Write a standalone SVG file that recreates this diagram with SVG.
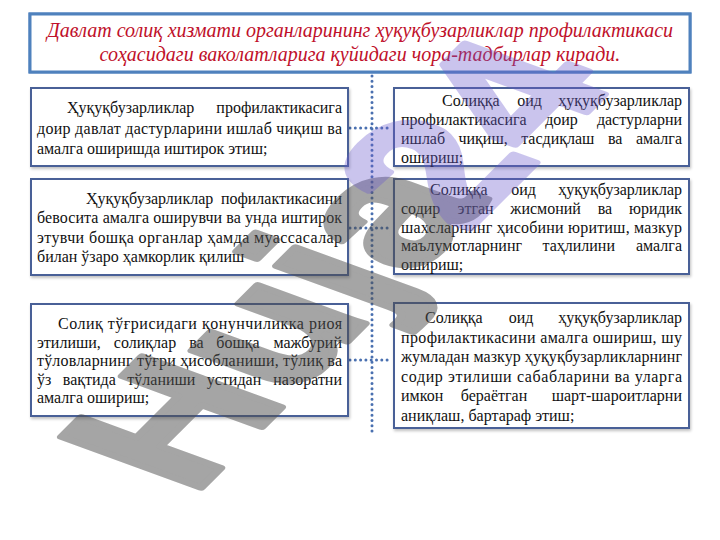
<svg xmlns="http://www.w3.org/2000/svg" width="720" height="540" viewBox="0 0 720 540">
<defs>
<filter id="glow" x="-5%" y="-30%" width="110%" height="160%">
<feGaussianBlur in="SourceAlpha" stdDeviation="3"/>
<feOffset dx="0" dy="2"/>
<feComponentTransfer><feFuncA type="linear" slope="0.35"/></feComponentTransfer>
<feFlood flood-color="#4f81bd"/>
<feComposite operator="in" in2="SourceGraphic"/>
<feMerge><feMergeNode/><feMergeNode in="SourceGraphic"/></feMerge>
</filter>
<filter id="sh" x="-5%" y="-10%" width="110%" height="125%">
<feGaussianBlur in="SourceAlpha" stdDeviation="1.5"/>
<feOffset dx="1" dy="2"/>
<feComponentTransfer><feFuncA type="linear" slope="0.25"/></feComponentTransfer>
<feMerge><feMergeNode/><feMergeNode in="SourceGraphic"/></feMerge>
</filter>
<style>
.box{fill:#fff;stroke:#4a6197;stroke-width:2}
.tbox{fill:#fff;stroke:#4f81bd;stroke-width:3}
.t{font-family:"Liberation Serif","Times New Roman",serif;font-size:16px;fill:#111}
.m{text-anchor:middle}
.e{text-anchor:end}
.title{font-family:"Liberation Serif","Times New Roman",serif;font-style:italic;font-size:20px;fill:#c0102a;text-anchor:middle}
.dot{fill:none;stroke:#4a70b0;stroke-width:3;stroke-linecap:round;stroke-dasharray:0 5.3}
.wm{font-family:"Liberation Sans",Arial,sans-serif;font-weight:bold;font-size:190px;stroke-width:7;stroke-linejoin:round}
</style>
</defs>
<rect width="720" height="540" fill="#fff"/>

<g id="connectors">
<line class="dot" x1="372" y1="76" x2="372" y2="432"/>
<line class="dot" x1="350" y1="128" x2="392" y2="128"/>
<line class="dot" x1="350" y1="228" x2="392" y2="228"/>
<line class="dot" x1="350" y1="360" x2="392" y2="360"/>
</g>

<g id="title">
<rect class="tbox" x="30" y="14" width="660" height="58" filter="url(#glow)"/>
<text class="title" x="360" y="37">Давлат солиқ хизмати органларининг ҳуқуқбузарликлар профилактикаси</text>
<text class="title" x="360" y="61">соҳасидаги ваколатларига қуйидаги чора-тадбирлар киради.</text>
</g>

<g id="left1">
<rect class="box" x="31" y="88" width="317" height="78" filter="url(#sh)"/>
<text class="t" x="67" y="113">Ҳуқуқбузарликлар</text>
<text class="t e" x="342" y="113">профилактикасига</text>
<text class="t" x="37" y="133.5" textLength="305" lengthAdjust="spacing">доир давлат дастурларини ишлаб чиқиш ва</text>
<text class="t" x="37" y="154">амалга оширишда иштирок этиш;</text>
</g>

<g id="left2">
<rect class="box" x="31" y="179" width="317" height="96" filter="url(#sh)"/>
<text class="t" x="86" y="204">Ҳуқуқбузарликлар</text>
<text class="t e" x="342" y="204">пофилактикасини</text>
<text class="t" x="37" y="223.3" textLength="305" lengthAdjust="spacing">бевосита амалга оширувчи ва унда иштирок</text>
<text class="t" x="37" y="242.6" textLength="305" lengthAdjust="spacing">этувчи бошқа органлар ҳамда муассасалар</text>
<text class="t" x="37" y="262">билан ўзаро ҳамкорлик қилиш</text>
</g>

<g id="left3">
<rect class="box" x="31" y="304" width="317" height="112" filter="url(#sh)"/>
<text class="t" x="58" y="329" textLength="284" lengthAdjust="spacing">Солиқ тўғрисидаги қонунчиликка риоя</text>
<text class="t" x="37" y="347.5">этилиши,</text>
<text class="t m" x="145" y="347.5">солиқлар</text>
<text class="t m" x="196.5" y="347.5">ва</text>
<text class="t m" x="238" y="347.5">бошқа</text>
<text class="t e" x="342" y="347.5">мажбурий</text>
<text class="t" x="37" y="366" textLength="305" lengthAdjust="spacing">тўловларнинг тўғри ҳисобланиши, тўлиқ ва</text>
<text class="t" x="37" y="384.5">ўз</text>
<text class="t m" x="89.3" y="384.5">вақтида</text>
<text class="t m" x="161.4" y="384.5">тўланиши</text>
<text class="t m" x="234" y="384.5">устидан</text>
<text class="t e" x="342" y="384.5">назоратни</text>
<text class="t" x="37" y="403">амалга ошириш;</text>
</g>

<g id="right1">
<rect class="box" x="394" y="88" width="295" height="78" filter="url(#sh)"/>
<text class="t" x="442" y="106">Солиққа</text>
<text class="t m" x="529.5" y="106">оид</text>
<text class="t e" x="682" y="106">ҳуқуқбузарликлар</text>
<text class="t" x="401" y="125">профилактикасига</text>
<text class="t m" x="561.5" y="125">доир</text>
<text class="t e" x="682" y="125">дастурларни</text>
<text class="t" x="401" y="144">ишлаб</text>
<text class="t m" x="483.1" y="144">чиқиш,</text>
<text class="t m" x="557.8" y="144">тасдиқлаш</text>
<text class="t m" x="615.2" y="144">ва</text>
<text class="t e" x="682" y="144">амалга</text>
<text class="t" x="401" y="163">ошириш;</text>
</g>

<g id="right2">
<rect class="box" x="394" y="179" width="295" height="95" filter="url(#sh)"/>
<text class="t" x="430" y="195">Солиққа</text>
<text class="t m" x="523.6" y="195">оид</text>
<text class="t e" x="682" y="195">ҳуқуқбузарликлар</text>
<text class="t" x="401" y="213.8">содир</text>
<text class="t m" x="475.6" y="213.8">этган</text>
<text class="t m" x="545.6" y="213.8">жисмоний</text>
<text class="t m" x="604.9" y="213.8">ва</text>
<text class="t e" x="682" y="213.8">юридик</text>
<text class="t" x="401" y="232.5" textLength="281" lengthAdjust="spacing">шахсларнинг ҳисобини юритиш, мазкур</text>
<text class="t" x="401" y="251.3">маълумотларнинг</text>
<text class="t m" x="578.7" y="251.3">таҳлилини</text>
<text class="t e" x="682" y="251.3">амалга</text>
<text class="t" x="401" y="270">ошириш;</text>
</g>

<g id="right3">
<rect class="box" x="394" y="303" width="295" height="125" filter="url(#sh)"/>
<text class="t" x="425" y="323">Солиққа</text>
<text class="t m" x="521" y="323">оид</text>
<text class="t e" x="682" y="323">ҳуқуқбузарликлар</text>
<text class="t" x="401" y="342.5" textLength="281" lengthAdjust="spacing">профилактикасини амалга ошириш, шу</text>
<text class="t" x="401" y="362" textLength="281" lengthAdjust="spacing">жумладан мазкур ҳуқуқбузарликларнинг</text>
<text class="t" x="401" y="381.5" textLength="281" lengthAdjust="spacing">содир этилиши сабабларини ва уларга</text>
<text class="t" x="401" y="401">имкон</text>
<text class="t m" x="494" y="401">бераётган</text>
<text class="t e" x="682" y="401">шарт-шароитларни</text>
<text class="t" x="401" y="420.5">аниқлаш, бартараф этиш;</text>
</g>

<g id="watermark">
<g opacity="0.5"><text class="wm" fill="#4d4d4d" stroke="#4d4d4d" transform="matrix(0.72,-0.72,1.07,0.39,192,497)">Huja</text></g>
<g opacity="0.35" transform="translate(-18,28)"><text class="wm" fill="#6a5acd" stroke="#6a5acd" transform="matrix(0.72,-0.72,1.07,0.39,192,497)" x="405">24</text></g>
</g>
</svg>
